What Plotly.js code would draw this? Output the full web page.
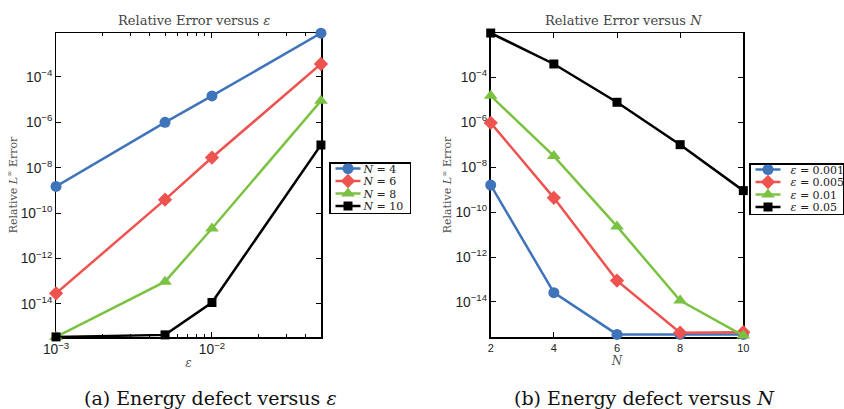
<!DOCTYPE html>
<html>
<head>
<meta charset="utf-8">
<script src="https://cdn.plot.ly/plotly-3.0.1.min.js"></script>
<style>html,body{margin:0;padding:0;background:#fff;}#chart{width:844px;height:409px;}</style>
</head>
<body>
<div id="chart"></div>
<script>
// ---- Data ----
const epsValues = [0.001, 0.005, 0.01, 0.05];
const errN4  = [1.5e-9, 1.0e-6, 1.45e-5, 8.5e-3];
const errN6  = [2.9e-14, 3.9e-10, 2.8e-8, 3.7e-4];
const errN8  = [3.5e-16, 9.5e-14, 2.1e-11, 8.9e-6];
const errN10 = [3.5e-16, 4.3e-16, 1.15e-14, 1.0e-7];

const nValues = [2, 4, 6, 8, 10];
const errE001 = [1.6e-9, 2.6e-14, 3.6e-16, 3.6e-16, 3.6e-16];
const errE005 = [9.4e-7, 4.3e-10, 8.9e-14, 4.3e-16, 4.5e-16];
const errE01  = [1.5e-5, 3.1e-8, 2.3e-11, 1.15e-14, 3.2e-16];
const errE05  = [9.3e-3, 3.9e-4, 7.7e-6, 1.0e-7, 9.0e-10];

const leftNames  = ['<i>N</i> = 4', '<i>N</i> = 6', '<i>N</i> = 8', '<i>N</i> = 10'];
const rightNames = ['<i>ε</i> = 0.001', '<i>ε</i> = 0.005', '<i>ε</i> = 0.01', '<i>ε</i> = 0.05'];

// ---- Styles ----
const colors  = ['#3F74BB', '#EE5350', '#7CC242', '#000000'];
const symbols = ['circle', 'diamond', 'triangle-up', 'square'];
const msizes  = [11, 11, 12, 9];
const SERIF = 'DejaVu Serif, serif';
const SANS = 'Liberation Sans, Arial, sans-serif';

const leftSeries = [errN4, errN6, errN8, errN10];
const rightSeries = [errE001, errE005, errE01, errE05];

const traces = [];
leftSeries.forEach((ys, i) => {
  traces.push({
    x: epsValues, y: ys, type: 'scatter', mode: 'lines+markers',
    name: leftNames[i], xaxis: 'x', yaxis: 'y', legend: 'legend',
    line: {color: colors[i], width: 2.5},
    marker: {color: colors[i], symbol: symbols[i], size: msizes[i]},
    cliponaxis: false
  });
});
rightSeries.forEach((ys, i) => {
  traces.push({
    x: nValues, y: ys, type: 'scatter', mode: 'lines+markers',
    name: rightNames[i], xaxis: 'x2', yaxis: 'y2', legend: 'legend2',
    line: {color: colors[i], width: 2.5},
    marker: {color: colors[i], symbol: symbols[i], size: msizes[i]},
    cliponaxis: false
  });
});

const W = 844, H = 409;
const yDom = [1 - 337/H, 1 - 33/H];
const axisCommon = {
  showgrid: false, zeroline: false, showline: true, linecolor: '#000', linewidth: 1.5,
  mirror: 'allticks', ticks: 'inside', ticklen: 5, tickwidth: 1, tickcolor: '#000',
  tickfont: {family: SANS, size: 11, color: '#222'}, automargin: false, layer: 'below traces'
};
const yCommon = Object.assign({}, axisCommon, {
  type: 'log', dtick: 2, exponentformat: 'power',
  title: {text: 'Relative <i>L</i><sup>∞</sup> Error', font: {family: SERIF, size: 11, color: '#555'}, standoff: 1}
});

const legendCommon = {
  xref: 'paper', yref: 'paper', yanchor: 'top',
  bgcolor: '#fff', bordercolor: '#000', borderwidth: 1.5,
  font: {family: SERIF, size: 11, color: '#222'}, tracegroupgap: 0
};

const layout = {
  width: W, height: H,
  margin: {l: 0, r: 0, t: 0, b: 0},
  paper_bgcolor: '#fff', plot_bgcolor: '#fff',
  showlegend: true,
  xaxis: Object.assign({}, axisCommon, {
    domain: [56/W, 321/W], anchor: 'y', type: 'log',
    range: [-3.0003, Math.log10(0.05) + 0.0003], dtick: 1, exponentformat: 'power',
    minor: {ticks: 'inside', ticklen: 3, tickcolor: '#000', tickwidth: 1},
    title: {text: '<i>ε</i>', font: {family: SERIF, size: 12, color: '#555'}, standoff: 2}
  }),
  yaxis: Object.assign({}, yCommon, {
    domain: yDom, anchor: 'x', range: [-15.46, -2.065]
  }),
  xaxis2: Object.assign({}, axisCommon, {
    domain: [490.7/W, 743.3/W], anchor: 'y2', range: [2, 10], dtick: 2,
    title: {text: '<i>N</i>', font: {family: SERIF, size: 12, color: '#555'}, standoff: 2}
  }),
  yaxis2: Object.assign({}, yCommon, {
    domain: yDom, anchor: 'x2', range: [-15.56, -2.03]
  }),
  legend: Object.assign({}, legendCommon, {x: 329/W, xanchor: 'left', y: 1 - 162/H}),
  legend2: Object.assign({}, legendCommon, {x: 1, xanchor: 'right', y: 1 - 163/H}),
  annotations: [
    {text: 'Relative Error versus <i>ε</i>', xref: 'paper', yref: 'paper', x: 194/W, y: 1 - 21/H,
     xanchor: 'center', yanchor: 'middle', showarrow: false, font: {family: SERIF, size: 13, color: '#444'}},
    {text: 'Relative Error versus <i>N</i>', xref: 'paper', yref: 'paper', x: 623/W, y: 1 - 21/H,
     xanchor: 'center', yanchor: 'middle', showarrow: false, font: {family: SERIF, size: 13, color: '#444'}},
    {text: '(a) Energy defect versus <i>ε</i>', xref: 'paper', yref: 'paper', x: 210/W, y: 1 - 398/H,
     xanchor: 'center', yanchor: 'middle', showarrow: false, font: {family: SERIF, size: 19, color: '#111'}},
    {text: '(b) Energy defect versus <i>N</i>', xref: 'paper', yref: 'paper', x: 644/W, y: 1 - 398/H,
     xanchor: 'center', yanchor: 'middle', showarrow: false, font: {family: SERIF, size: 19, color: '#111'}}
  ]
};

Plotly.newPlot('chart', traces, layout, {staticPlot: true, displayModeBar: false}).then(gd => {
  // compact legend entries like the reference (tight rows, short line samples)
  const step = 12.5, first = 6.5, shrink = 7;
  gd.querySelectorAll('.infolayer > g').forEach(lg => {
    const cls = lg.getAttribute('class') || '';
    if (!/^legend\d*$/.test(cls)) return;
    const items = lg.querySelectorAll('g.traces');
    items.forEach((it, k) => {
      const m = /translate\(\s*([-\d.e]+)[ ,]+([-\d.e]+)\s*\)/.exec(it.getAttribute('transform') || '');
      const tx = m ? parseFloat(m[1]) : 0;
      it.setAttribute('transform', 'translate(' + tx + ',' + (first + k * step) + ')');
      it.querySelectorAll('path.js-line').forEach(p => p.setAttribute('d', 'M5,0h25'));
      it.querySelectorAll('path.scatterpts').forEach(p => p.setAttribute('transform', 'translate(17.5,0)'));
      const t = it.querySelector('text.legendtext');
      if (t) t.setAttribute('x', parseFloat(t.getAttribute('x') || 40) - shrink);
    });
    const bg = lg.querySelector('rect.bg');
    if (bg) {
      bg.setAttribute('height', 2 * first + (items.length - 1) * step);
      bg.setAttribute('width', parseFloat(bg.getAttribute('width')) - shrink);
    }
    if (cls === 'legend2') {
      const m = /translate\(\s*([-\d.e]+)[ ,]+([-\d.e]+)\s*\)/.exec(lg.getAttribute('transform') || '');
      if (m) lg.setAttribute('transform', 'translate(' + (parseFloat(m[1]) + shrink) + ',' + m[2] + ')');
    }
  });
});
</script>
</body>
</html>
